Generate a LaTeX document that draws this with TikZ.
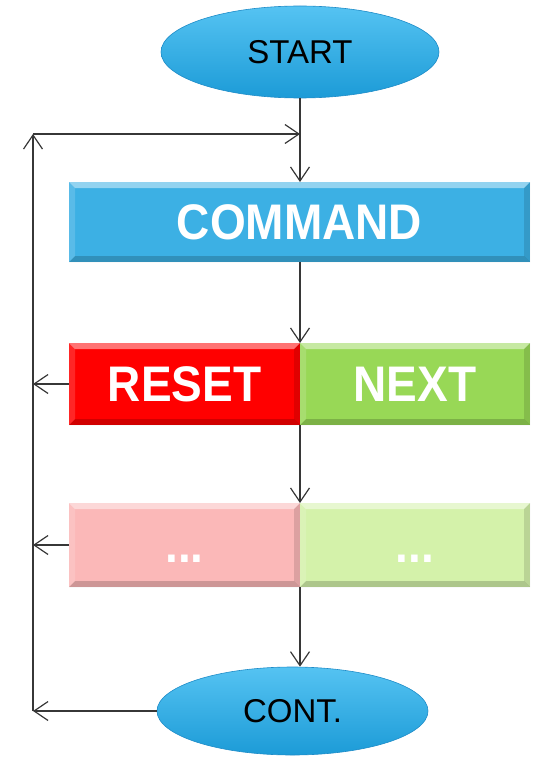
\documentclass[tikz,border=0pt]{standalone}
\usepackage{fontspec}
\setmainfont{Liberation Sans}
\usetikzlibrary{arrows.meta,shapes.geometric}
\definecolor{ellblue}{RGB}{35,170,230}
\definecolor{elltop}{RGB}{85,195,242}
\definecolor{ellbot}{RGB}{28,155,215}
\definecolor{ellline}{RGB}{30,140,200}
\definecolor{cmdblue}{RGB}{60,176,228}
\definecolor{resetred}{RGB}{255,0,0}
\definecolor{nextgreen}{RGB}{152,216,86}
\definecolor{pinkish}{RGB}{251,184,184}
\definecolor{lightgreen}{RGB}{212,242,170}
\definecolor{linegray}{RGB}{55,55,55}
\tikzset{
  flowline/.style={draw=linegray,line width=1.1pt},
  arr/.style={flowline,-{Straight Barb[length=14pt,width=19pt,line width=1.2pt]}},
  terminal/.style={ellipse,draw=ellline,line width=0.6pt,top color=elltop,bottom color=ellbot,
    inner sep=0pt,font=\fontsize{33}{36}\selectfont,text=black},
  bevelbox/.style={rectangle,inner sep=0pt,outer sep=0pt,text=white,
    font=\fontsize{50}{55}\selectfont\bfseries,
    path picture={
      \fill[white,opacity=0.45] (path picture bounding box.north west) -- (path picture bounding box.north east)
        -- ([xshift=-6pt,yshift=-6pt]path picture bounding box.north east) -- ([xshift=6pt,yshift=-6pt]path picture bounding box.north west) -- cycle;
      \fill[black,opacity=0.18] (path picture bounding box.south west) -- (path picture bounding box.south east)
        -- ([xshift=-6pt,yshift=6pt]path picture bounding box.south east) -- ([xshift=6pt,yshift=6pt]path picture bounding box.south west) -- cycle;
      \fill[black,opacity=0.12] (path picture bounding box.north east) -- (path picture bounding box.south east)
        -- ([xshift=-6pt,yshift=6pt]path picture bounding box.south east) -- ([xshift=-6pt,yshift=-6pt]path picture bounding box.north east) -- cycle;
      \fill[white,opacity=0.15] (path picture bounding box.north west) -- (path picture bounding box.south west)
        -- ([xshift=6pt,yshift=6pt]path picture bounding box.south west) -- ([xshift=6pt,yshift=-6pt]path picture bounding box.north west) -- cycle;
    }},
}
\newcommand{\btext}[1]{\scalebox{0.92}[1]{#1}}
\begin{document}
\begin{tikzpicture}[x=1pt,y=-1pt]
\useasboundingbox (0,0) rectangle (536,757);
% terminals
\node[terminal,minimum width=278pt,minimum height=92pt] (start) at (300,52) {START};
\node[terminal,minimum width=271pt,minimum height=88pt] (cont) at (292.5,711) {CONT.};
% boxes
\node[bevelbox,fill=cmdblue,minimum width=461pt,minimum height=80pt] (command) at (299.5,222) {\btext{COMMAND}};
\node[bevelbox,fill=resetred,minimum width=231pt,minimum height=82pt] (reset) at (184.5,384) {\btext{RESET}};
\node[bevelbox,fill=nextgreen,minimum width=230pt,minimum height=82pt] (next) at (415,384) {\btext{NEXT}};
\node[bevelbox,fill=pinkish,minimum width=231pt,minimum height=84pt] (dotsl) at (184.5,545) {\btext{\vphantom{E}...}};
\node[bevelbox,fill=lightgreen,minimum width=230pt,minimum height=84pt] (dotsr) at (415,545) {\btext{\vphantom{E}...}};
% loop coordinates
\coordinate (looptop) at (33,134);
\coordinate (loopbot) at (33,711);
\coordinate (join) at (300,134);
% connectors
\draw[flowline] (start.south -| join) -- (join);
\draw[arr] (join) -- (join |- command.north);
\draw[arr] (command.south -| reset.east) -- (reset.north east);
\draw[arr] (reset.south east) -- (dotsl.north east);
\draw[arr] (dotsl.south east) -- (dotsl.south east |- cont.north);
\draw[arr] (cont.west) -- (loopbot);
\draw[arr] (loopbot) -- (looptop);
\draw[arr] (looptop) -- (join);
\draw[arr] (reset.west) -- (reset.west -| looptop);
\draw[arr] (dotsl.west) -- (dotsl.west -| looptop);
\end{tikzpicture}
\end{document}
